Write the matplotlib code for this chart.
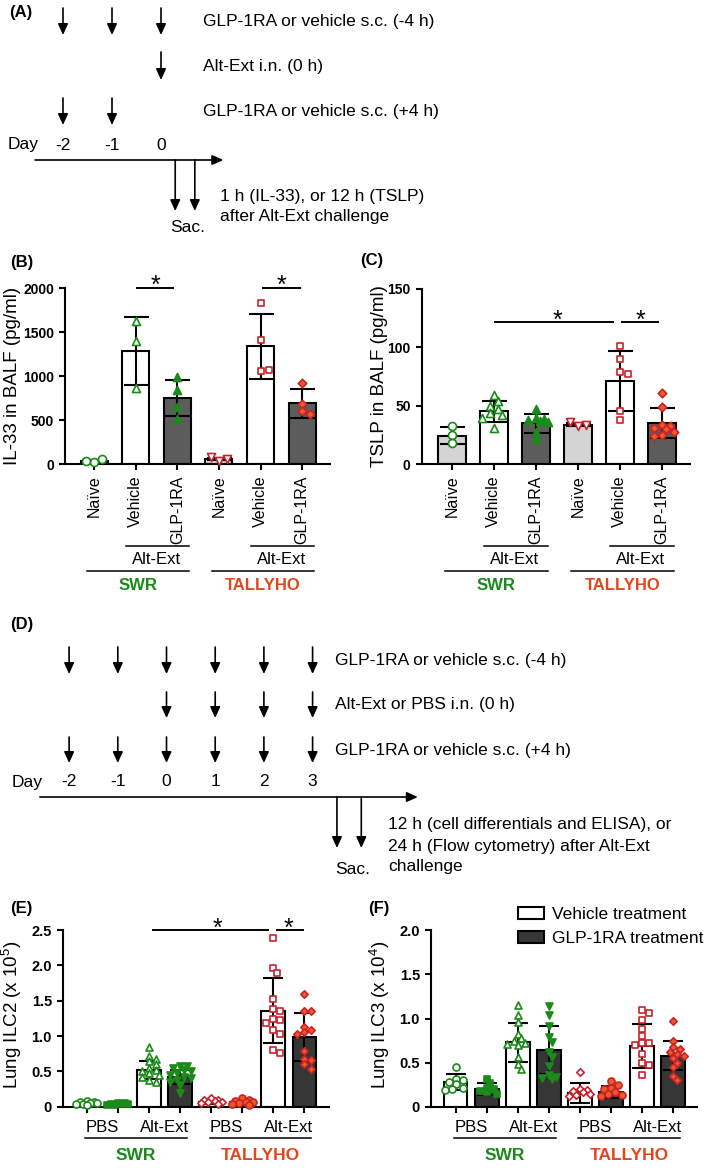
import matplotlib
matplotlib.use('Agg')
import matplotlib.pyplot as plt
import matplotlib.transforms as mtransforms
from matplotlib.patches import Patch
import numpy as np

plt.rcParams['font.family'] = ['Liberation Sans', 'DejaVu Sans']
plt.rcParams['mathtext.fontset'] = 'custom'
plt.rcParams['mathtext.rm'] = 'Liberation Sans'
plt.rcParams['mathtext.it'] = 'Liberation Sans:italic'
plt.rcParams['mathtext.bf'] = 'Liberation Sans:bold'

# ---------------- data ----------------
bc_labels = ['Naïve', 'Vehicle', 'GLP-1RA', 'Naïve', 'Vehicle', 'GLP-1RA']
strains = ['SWR', 'TALLYHO']

il33_mean = [35, 1290, 750, 60, 1340, 690]
il33_sd = [12, 385, 205, 15, 370, 160]
il33_pts = [[30, 65, 40], [1620, 1395, 865], [985, 845, 655, 510],
            [40, 62, 78], [1835, 1415, 1060, 1075], [925, 680, 600, 575]]

tslp_mean = [24.5, 45.5, 35, 34, 71.5, 35]
tslp_sd = [7.5, 9, 8, 1.5, 25.5, 12.8]
tslp_pts = [[33, 25, 18], [59, 54, 50, 47, 44, 42, 40, 31],
            [47, 40, 39, 38, 37, 36, 28, 22], [33, 34, 36],
            [101, 90, 79, 77, 46, 38], [61, 49, 34, 33, 31, 30, 28, 25, 24]]

ef_pairs = ['PBS', 'Alt-Ext']
ilc2_mean = [0.05, 0.04, 0.52, 0.42, 0.07, 0.06, 1.36, 0.98]
ilc2_sd = [0.02, 0.01, 0.13, 0.1, 0.03, 0.03, 0.465, 0.34]
ilc2_pts = [[0.08, 0.07, 0.06, 0.05, 0.05, 0.04, 0.04, 0.03],
            [0.05, 0.05, 0.04, 0.04, 0.04, 0.03, 0.03],
            [0.85, 0.72, 0.68, 0.64, 0.6, 0.55, 0.52, 0.5, 0.48, 0.45, 0.42, 0.38, 0.35],
            [0.58, 0.57, 0.55, 0.52, 0.5, 0.47, 0.45, 0.42, 0.4, 0.38, 0.35, 0.3, 0.2],
            [0.12, 0.1, 0.09, 0.08, 0.07, 0.06, 0.05, 0.04],
            [0.12, 0.1, 0.08, 0.07, 0.06, 0.05, 0.04, 0.03],
            [2.38, 1.96, 1.89, 1.52, 1.38, 1.36, 1.24, 1.22, 1.18, 1.08, 1.03, 0.8, 0.76],
            [1.6, 1.36, 1.35, 1.13, 1.08, 1.05, 1.03, 0.79, 0.68, 0.66, 0.6, 0.54]]

ilc3_mean = [0.28, 0.2, 0.73, 0.64, 0.16, 0.17, 0.69, 0.58]
ilc3_sd = [0.09, 0.07, 0.22, 0.27, 0.11, 0.07, 0.25, 0.165]
ilc3_pts = [[0.45, 0.32, 0.30, 0.28, 0.26, 0.22, 0.2, 0.19],
            [0.32, 0.27, 0.22, 0.2, 0.18, 0.17, 0.15],
            [1.15, 1.04, 0.96, 0.83, 0.78, 0.75, 0.72, 0.71, 0.7, 0.56, 0.49, 0.43],
            [1.14, 1.04, 0.92, 0.79, 0.74, 0.62, 0.57, 0.46, 0.36, 0.34, 0.33, 0.32],
            [0.4, 0.2, 0.19, 0.18, 0.17, 0.15, 0.13, 0.12],
            [0.29, 0.25, 0.22, 0.2, 0.17, 0.15, 0.13, 0.12],
            [1.1, 1.06, 0.98, 0.88, 0.8, 0.72, 0.72, 0.7, 0.6, 0.5, 0.47, 0.36],
            [0.97, 0.75, 0.68, 0.65, 0.62, 0.6, 0.58, 0.55, 0.5, 0.45, 0.35, 0.3]]

# schematic timelines
a_rows = [('GLP-1RA or vehicle s.c. (-4 h)', [-2, -1, 0]),
          ('Alt-Ext i.n. (0 h)', [0]),
          ('GLP-1RA or vehicle s.c. (+4 h)', [-2, -1])]
a_days = [-2, -1, 0]
a_sac = [0.29, 0.69]
a_note = ['1 h (IL-33), or 12 h (TSLP)', 'after Alt-Ext challenge']

d_days = [-2, -1, 0, 1, 2, 3]
d_rows = [('GLP-1RA or vehicle s.c. (-4 h)', d_days),
          ('Alt-Ext or PBS i.n. (0 h)', [0, 1, 2, 3]),
          ('GLP-1RA or vehicle s.c. (+4 h)', d_days)]
d_sac = [3.5, 4.0]
d_note = ['12 h (cell differentials and ELISA), or',
          '24 h (Flow cytometry) after Alt-Ext', 'challenge']

# ---------------- styles ----------------
GREEN = '#1a8a1a'
RED = '#c8232c'
ORANGE = '#ee5a24'
TALLY = '#e2461c'
bc_faces = ['#d4d4d4', 'white', '#5c5c5c', '#d4d4d4', 'white', '#5c5c5c']
bc_markers = ['o', '^', '^', 'v', 's', 'D']
bc_mface = ['white', 'white', GREEN, 'white', 'white', ORANGE]
bc_medge = [GREEN, GREEN, GREEN, RED, RED, RED]
ef_faces = ['white', '#363636'] * 4
ef_markers = ['o', 's', '^', 'v', 'D', 'o', 's', 'D']
ef_mface = ['white', GREEN, 'white', GREEN, 'white', ORANGE, 'white', ORANGE]
ef_medge = [GREEN] * 4 + [RED] * 4
msize_scale = {'o': 1.0, '^': 1.0, 'v': 1.0, 's': 0.8, 'D': 0.75}

W, H = 709, 1170
fig = plt.figure(figsize=(W / 100, H / 100), dpi=100)


def rect(x0, y0, x1, y1):
    return [x0 / W, 1 - y1 / H, (x1 - x0) / W, (y1 - y0) / H]


# pixel overlay for free text
ov = fig.add_axes([0, 0, 1, 1])
ov.set_xlim(0, W)
ov.set_ylim(H, 0)
ov.set_autoscale_on(False)
ov.axis('off')
ov.patch.set_visible(False)

FS = 12.5
AP = dict(arrowstyle='-|>,head_length=0.55,head_width=0.25', color='k',
          lw=1.2, mutation_scale=12, shrinkA=0, shrinkB=0)


def schematic(day0, step, rows, rows_y, days, day_y, line_y, line_span, sac, sac_y,
              text_x, day_x, notes, notes_x, notes_y, sac_text):
    ax = fig.add_axes([0, 0, 1, 1])
    ax.set_xlim(-day0 / step, (W - day0) / step)
    ax.set_ylim(H, 0)
    ax.axis('off')
    ax.patch.set_visible(False)
    for (txt, ds), (y0, y1) in zip(rows, rows_y):
        for d in ds:
            ax.annotate('', xy=(d, y1), xytext=(d, y0), arrowprops=AP)
        ov.text(text_x, (y0 + y1) / 2, txt, fontsize=FS, va='center', ha='left')
    for d in days:
        ax.text(d, day_y, str(d), fontsize=FS, ha='center', va='center')
    ov.text(day_x, day_y, 'Day', fontsize=FS, ha='left', va='center')
    ax.annotate('', xy=(line_span[1], line_y), xytext=(line_span[0], line_y), arrowprops=AP)
    for d in sac:
        ax.annotate('', xy=(d, sac_y), xytext=(d, line_y), arrowprops=AP)
    for t, y in zip(notes, notes_y):
        ov.text(notes_x, y, t, fontsize=FS, va='center', ha='left')
    ov.text(sac_text[0], sac_text[1], 'Sac.', fontsize=FS, ha='center', va='center')
    return ax


schematic(161, 49, a_rows, [(8, 35), (52, 80), (98, 125)], a_days, 145, 160,
          (-2.57, 1.27), a_sac, 211, 203, 8, a_note, 220, [196, 216], (188, 228))
schematic(166.5, 48.7, d_rows, [(647, 674), (692, 718), (737, 763)], d_days, 782, 797,
          (-2.6, 5.16), d_sac, 848, 335, 12, d_note, 388, [825, 846, 867], (353, 869))


def swarm(ax, vals, d_px, max_off):
    # spread points sideways (deterministic) so markers do not pile up
    p0 = ax.transData.transform((0, 0))
    sx = ax.transData.transform((1, 0))[0] - p0[0]
    sy = ax.transData.transform((0, 1))[1] - p0[1]
    lim = max_off * sx
    cands = [0.0]
    j = 1
    while j * d_px / 2 <= lim:
        cands += [j * d_px / 2, -j * d_px / 2]
        j += 1
    placed, offs = [], []
    for v in vals:
        y = v * sy
        best, best_d = 0.0, -1
        for c in cands:
            dmin = min([np.hypot(c - px, y - py) for px, py in placed] or [1e9])
            if dmin >= 0.8 * d_px:
                best = c
                break
            if dmin > best_d:
                best, best_d = c, dmin
        placed.append((best, y))
        offs.append(best / sx)
    return np.array(offs)


def bar_panel(box, xlim, ylim, yticks, yticklabels, means, sds, pts, faces, markers,
              mfaces, medges, bw, mpx, capsize, tick_fs):
    ax = fig.add_axes(rect(*box))
    x = np.arange(len(means))
    ax.set_xlim(*xlim)
    ax.set_ylim(*ylim)
    ax.bar(x, means, width=bw, color=faces, edgecolor='k', linewidth=1.5, zorder=2)
    ax.errorbar(x, means, yerr=sds, fmt='none', ecolor='k', elinewidth=1.5,
                capsize=capsize, capthick=1.5, zorder=3)
    for i in range(len(means)):
        offs = swarm(ax, pts[i], mpx, bw * 0.5)
        ms = mpx / 1.39 * msize_scale[markers[i]]
        ax.scatter(x[i] + offs, pts[i], marker=markers[i], s=ms ** 2,
                   facecolors=mfaces[i], edgecolors=medges[i], linewidths=1.2,
                   zorder=4, clip_on=False)
    for s in ['top', 'right']:
        ax.spines[s].set_visible(False)
    for s in ['left', 'bottom']:
        ax.spines[s].set_linewidth(1.5)
    ax.set_yticks(yticks)
    ax.set_yticklabels(yticklabels, fontweight='bold', fontsize=tick_fs)
    ax.set_xticks(x)
    ax.tick_params(direction='out', length=4.5, width=1.5)
    return ax


def sig(ax, x0, x1, y, xs, fs=18):
    ax.plot([x0, x1], [y, y], color='k', lw=1.4, clip_on=False, zorder=5)
    ax.annotate('*', xy=(xs, y), xytext=(0, -4), textcoords='offset points',
                ha='center', va='baseline', fontsize=fs)


def blend(ax):
    return mtransforms.blended_transform_factory(ax.transData, ov.transData)


# ---------------- panel B ----------------
axB = bar_panel((65, 288, 330, 464.3), (-0.7, 5.67), (0, 2000), [0, 500, 1000, 1500, 2000],
                ['0', '500', '1000', '1500', '2000'], il33_mean, il33_sd, il33_pts,
                bc_faces, bc_markers, bc_mface, bc_medge, 0.65, 8, 9, 10)
sig(axB, 1.03, 1.9, 2005, 1.47)
sig(axB, 4.06, 4.95, 2005, 4.5)

# ---------------- panel C ----------------
axC = bar_panel((421.7, 289, 690, 464.3), (-0.72, 5.67), (0, 150), [0, 50, 100, 150],
                ['0', '50', '100', '150'], tslp_mean, tslp_sd, tslp_pts,
                bc_faces, bc_markers, bc_mface, bc_medge, 0.65, 8, 9, 10)
sig(axC, 1.02, 3.83, 121.7, 2.52)
sig(axC, 4.05, 4.9, 121.7, 4.48)

for ax in (axB, axC):
    ax.set_xticklabels(bc_labels, rotation=90, fontsize=11.5, va='top')
    tr = blend(ax)
    for k, col in enumerate([GREEN, TALLY]):
        i0 = 3 * k
        ov.plot([i0 + 0.77, i0 + 2.28], [546, 546], color='k', lw=1.1, transform=tr)
        ov.text(i0 + 1.5, 560, 'Alt-Ext', fontsize=12, ha='center', va='center', transform=tr)
        ov.plot([i0 - 0.16, i0 + 2.28], [571, 571], color='k', lw=1.1, transform=tr)
        ov.text(i0 + 1.06, 585, strains[k], fontsize=12, fontweight='bold', color=col,
                ha='center', va='center', transform=tr)

# ---------------- panel E ----------------
axE = bar_panel((63, 930, 329, 1106.7), (-0.77, 7.8), (0, 2.5), [0, 0.5, 1.0, 1.5, 2.0, 2.5],
                ['0', '0.5', '1.0', '1.5', '2.0', '2.5'], ilc2_mean, ilc2_sd, ilc2_pts,
                ef_faces, ef_markers, ef_mface, ef_medge, 0.75, 7, 7, 10.5)
sig(axE, 2.13, 5.84, 2.5, 4.2)
sig(axE, 6.13, 6.97, 2.5, 6.5)

# ---------------- panel F ----------------
axF = bar_panel((431, 930, 697, 1107), (-0.8, 7.77), (0, 2.0), [0, 0.5, 1.0, 1.5, 2.0],
                ['0', '0.5', '1.0', '1.5', '2.0'], ilc3_mean, ilc3_sd, ilc3_pts,
                ef_faces, ef_markers, ef_mface, ef_medge, 0.75, 7, 7, 10.5)

for ax in (axE, axF):
    ax.set_xticklabels([])
    tr = blend(ax)
    for k, col in enumerate([GREEN, TALLY]):
        i0 = 4 * k
        for j, lab in enumerate(ef_pairs):
            ov.text(i0 + 2 * j + 0.5, 1127, lab, fontsize=12, ha='center', va='center', transform=tr)
        ov.plot([i0 - 0.05, i0 + 3.22], [1138, 1138], color='k', lw=1.1, transform=tr)
        ov.text(i0 + 1.58, 1155, strains[k], fontsize=12.5, fontweight='bold', color=col,
                ha='center', va='center', transform=tr)

handles = [Patch(facecolor='white', edgecolor='k', linewidth=1.5, label='Vehicle treatment'),
           Patch(facecolor='#363636', edgecolor='k', linewidth=1.5, label='GLP-1RA treatment')]
fig.legend(handles=handles, loc='upper left', bbox_to_anchor=(518 / W, 1 - 907 / H),
           frameon=False, fontsize=FS, handlelength=1.5, handleheight=0.7,
           handletextpad=0.45, labelspacing=0.5, borderpad=0, borderaxespad=0)

# ---------------- axis titles & panel letters ----------------
ylabs = [(13, 376, 'IL-33 in BALF (pg/ml)'), (380, 376, 'TSLP in BALF (pg/ml)'),
         (12, 1015, 'Lung ILC2 (x 10$^{5}$)'), (380, 1015, 'Lung ILC3 (x 10$^{4}$)')]
for x, y, t in ylabs:
    ov.text(x, y, t, rotation=90, fontsize=13.5, ha='center', va='center')

letters = [(9, 13, '(A)'), (10, 262, '(B)'), (360, 261, '(C)'), (10, 625, '(D)'),
           (10, 908, '(E)'), (368, 908, '(F)')]
for x, y, t in letters:
    ov.text(x, y, t, fontsize=12, fontweight='bold', ha='left', va='center')

fig.savefig('out.png', dpi=100)
